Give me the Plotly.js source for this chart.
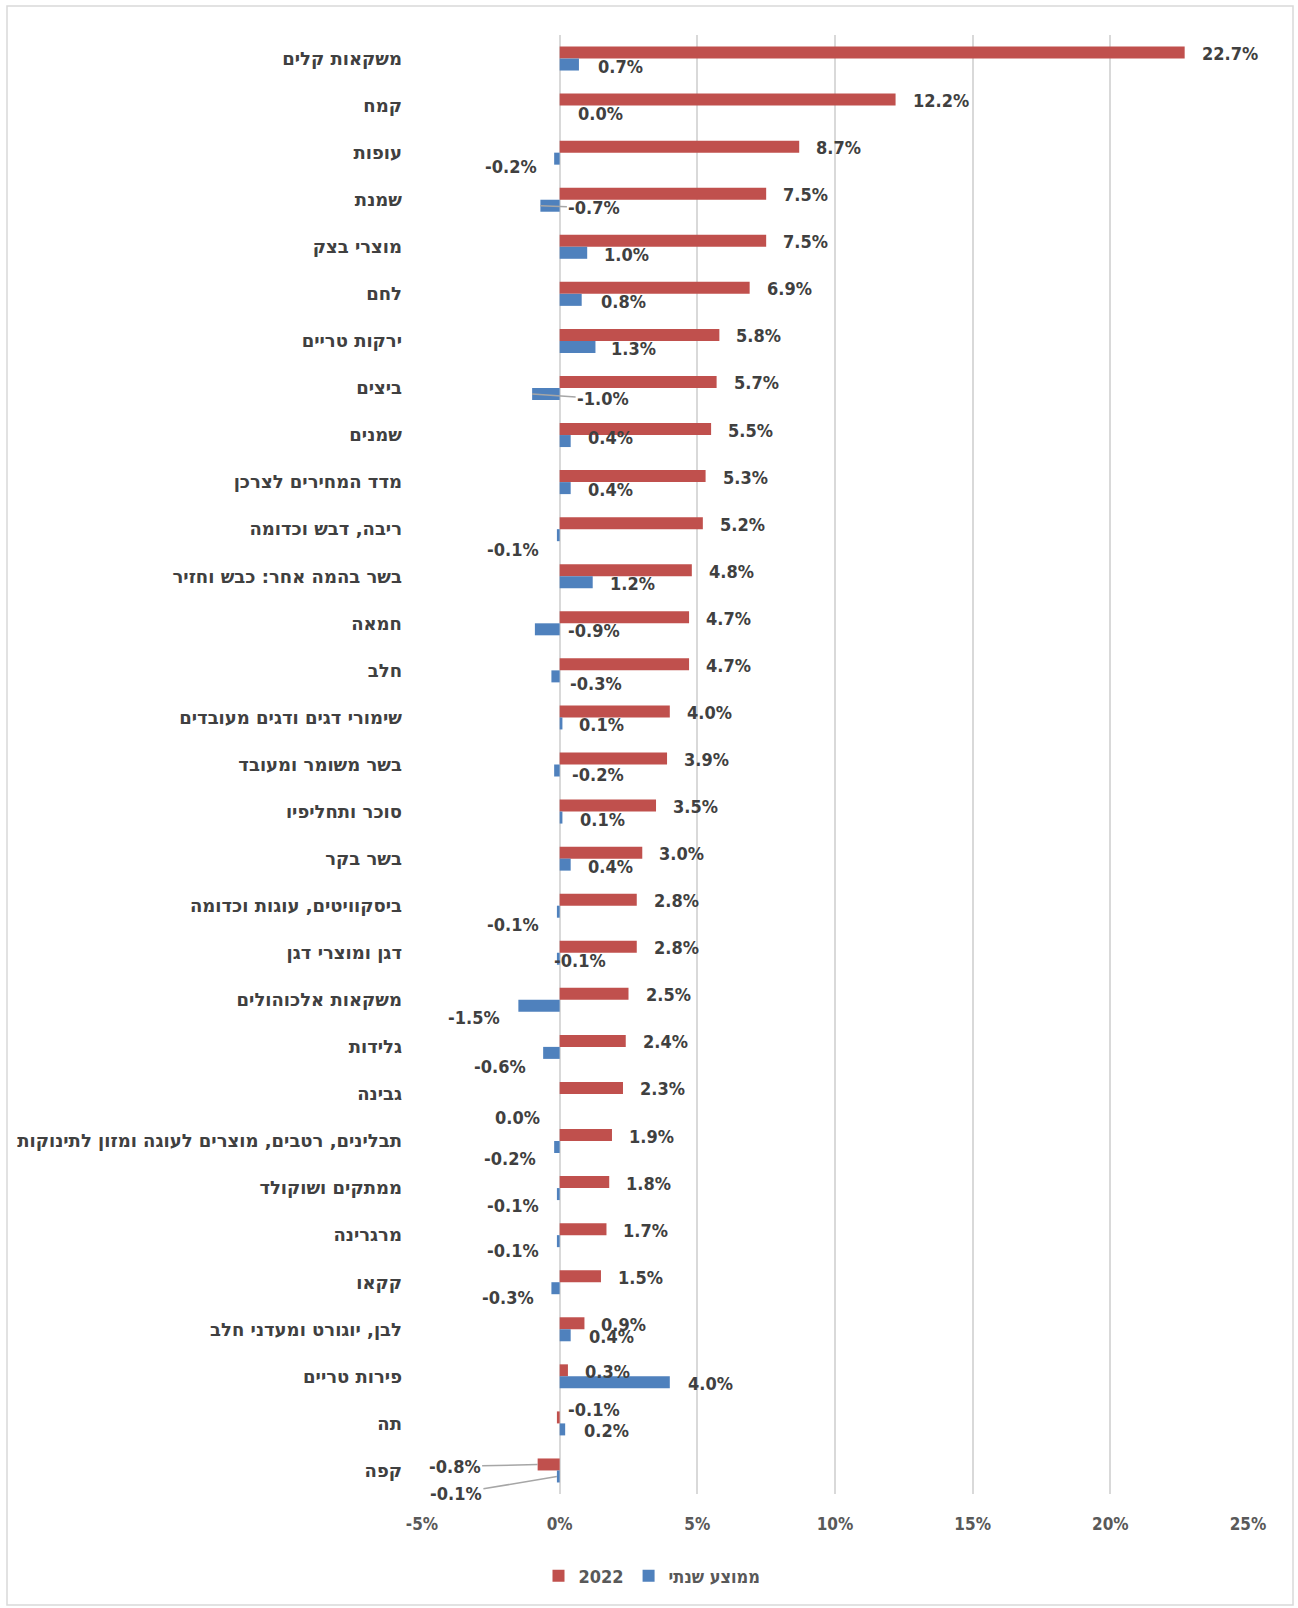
<!DOCTYPE html>
<html>
<head>
<meta charset="utf-8">
<script src="https://cdn.plot.ly/plotly-3.0.1.min.js"></script>
<style>
  html, body { margin: 0; padding: 0; background: #ffffff; }
  #chart { width: 1298px; height: 1608px; }
</style>
</head>
<body>
<div id="chart"></div>
<script>
// ---------------- DATA ----------------
const categories = [
  'משקאות קלים',
  'קמח',
  'עופות',
  'שמנת',
  'מוצרי בצק',
  'לחם',
  'ירקות טריים',
  'ביצים',
  'שמנים',
  'מדד המחירים לצרכן',
  'ריבה, דבש וכדומה',
  'בשר בהמה אחר: כבש וחזיר',
  'חמאה',
  'חלב',
  'שימורי דגים ודגים מעובדים',
  'בשר משומר ומעובד',
  'סוכר ותחליפיו',
  'בשר בקר',
  'ביסקוויטים, עוגות וכדומה',
  'דגן ומוצרי דגן',
  'משקאות אלכוהולים',
  'גלידות',
  'גבינה',
  'תבלינים, רטבים, מוצרים לעוגה ומזון לתינוקות',
  'ממתקים ושוקולד',
  'מרגרינה',
  'קקאו',
  'לבן, יוגורט ומעדני חלב',
  'פירות טריים',
  'תה',
  'קפה'
];

const values2022 = [22.7, 12.2, 8.7, 7.5, 7.5, 6.9, 5.8, 5.7, 5.5, 5.3, 5.2, 4.8, 4.7, 4.7, 4.0, 3.9, 3.5, 3.0, 2.8, 2.8, 2.5, 2.4, 2.3, 1.9, 1.8, 1.7, 1.5, 0.9, 0.3, -0.1, -0.8];

const valuesAnnualAvg = [0.7, 0.0, -0.2, -0.7, 1.0, 0.8, 1.3, -1.0, 0.4, 0.4, -0.1, 1.2, -0.9, -0.3, 0.1, -0.2, 0.1, 0.4, -0.1, -0.1, -1.5, -0.6, 0.0, -0.2, -0.1, -0.1, -0.3, 0.4, 4.0, 0.2, -0.1];

const seriesNames = ['2022', 'ממוצע שנתי'];

const xTickValues = [-5, 0, 5, 10, 15, 20, 25];
const xTickLabels = ['-5%', '0%', '5%', '10%', '15%', '20%', '25%'];

// ---------------- LABEL PLACEMENT (pixels) ----------------
// [mode, dx, dy]  mode L: text left-anchored at bar end + dx; R: right-anchored; A: leader line with text offset ax, ay
const redLabelPlacement = categories.map(() => ['L', 15, 1]);
redLabelPlacement[29] = ['L', 9.5, -8];
redLabelPlacement[30] = ['A', -83, 2];

const blueLabelPlacement = [
  ['L', 17, 1.5], ['L', 16, 1.5], ['R', -15, 8], ['A', 54, 2], ['L', 15, 2],
  ['L', 17, 2], ['L', 14, 2], ['A', 71, 5], ['L', 15, -4], ['L', 15, 1.5],
  ['R', -16, 14], ['L', 15, 1], ['L', 31, 1], ['L', 17, 7], ['L', 15, 1],
  ['L', 16, 4], ['L', 16, 2], ['L', 15, 2], ['R', -16, 13], ['L', -5, 1.5],
  ['R', -16, 12], ['R', -15, 14], ['R', -18, 18], ['R', -16, 11], ['R', -16, 11],
  ['R', -16, 9], ['R', -15, 9], ['L', 16, 1], ['L', 16, 1], ['L', 17, 1.5],
  ['A', -101, 17]
];

// ---------------- STYLE ----------------
const FONT = "'DejaVu Sans Condensed', 'Liberation Sans', Arial, sans-serif";
const HEB_FONT = "'DejaVu Sans', 'Liberation Sans', Arial, sans-serif";
const RED = '#c0504d';
const BLUE = '#4f81bd';
const GRID = '#d9d9d9';
const labelFont = { family: FONT, size: 18, color: '#404040', weight: 'bold' };

const W = 1298, H = 1608;
const M = { l: 422, r: 50, t: 35, b: 114 };
const plotW = W - M.l - M.r, plotH = H - M.t - M.b;
const px2paperX = px => (px - M.l) / plotW;
const py2paperY = py => (H - M.b - py) / plotH;

function makeLabel(val, cat, barShift, p) {
  const text = val.toFixed(1) + '%';
  if (p[0] === 'A') {
    return {
      x: val, y: cat, xref: 'x', yref: 'y', text: text,
      showarrow: true, arrowhead: 0, arrowwidth: 1.5, arrowcolor: '#a6a6a6',
      ax: p[1], ay: p[2], standoff: 0, yshift: barShift, font: labelFont
    };
  }
  return {
    x: val, y: cat, xref: 'x', yref: 'y', text: text, showarrow: false,
    xanchor: p[0] === 'L' ? 'left' : 'right', yanchor: 'middle',
    xshift: p[1], yshift: barShift - p[2], font: labelFont
  };
}

const annotations = [];
categories.forEach((c, i) => {
  annotations.push(makeLabel(values2022[i], c, 6, redLabelPlacement[i]));
  annotations.push(makeLabel(valuesAnnualAvg[i], c, -6, blueLabelPlacement[i]));
});

const traces = [
  {
    type: 'bar', orientation: 'h', name: seriesNames[0],
    y: categories, x: values2022,
    marker: { color: RED, line: { width: 0 } },
    hoverinfo: 'x+y'
  },
  {
    type: 'bar', orientation: 'h', name: seriesNames[1],
    y: categories, x: valuesAnnualAvg,
    marker: { color: BLUE, line: { width: 0 } },
    hoverinfo: 'x+y'
  }
];

const layout = {
  width: W, height: H,
  margin: M,
  paper_bgcolor: '#ffffff', plot_bgcolor: '#ffffff',
  font: { family: FONT, size: 17, color: '#595959', weight: 'bold' },
  barmode: 'group', bargap: 0.49, bargroupgap: 0,
  showlegend: true,
  legend: {
    orientation: 'h', x: px2paperX(652), xanchor: 'center',
    y: py2paperY(1576), yanchor: 'middle',
    font: { family: FONT, size: 18, color: '#595959', weight: 'bold' },
    itemwidth: 30, traceorder: 'normal'
  },
  xaxis: {
    range: [-5, 25], tickvals: xTickValues, ticktext: xTickLabels,
    showgrid: true, gridcolor: GRID, gridwidth: 2,
    zeroline: true, zerolinecolor: GRID, zerolinewidth: 2,
    showline: false, ticks: '', automargin: false,
    ticklabelstandoff: 18,
    tickfont: { family: FONT, size: 17, color: '#595959', weight: 'bold' },
    fixedrange: true
  },
  yaxis: {
    type: 'category', categoryorder: 'array', categoryarray: categories,
    range: [categories.length - 0.5, -0.5],
    showgrid: false, zeroline: false, showline: false, ticks: '',
    automargin: false, ticklabelstandoff: 19,
    tickfont: { family: HEB_FONT, size: 18, color: '#404040', weight: 'bold' },
    fixedrange: true
  },
  annotations: annotations,
  shapes: [
    {
      type: 'rect', xref: 'paper', yref: 'paper',
      x0: px2paperX(7), x1: px2paperX(1293), y0: py2paperY(1605), y1: py2paperY(6),
      line: { color: GRID, width: 1.5 }, fillcolor: 'rgba(0,0,0,0)', layer: 'below'
    }
  ]
};

Plotly.newPlot('chart', traces, layout, { displayModeBar: false, staticPlot: true });
</script>
</body>
</html>
